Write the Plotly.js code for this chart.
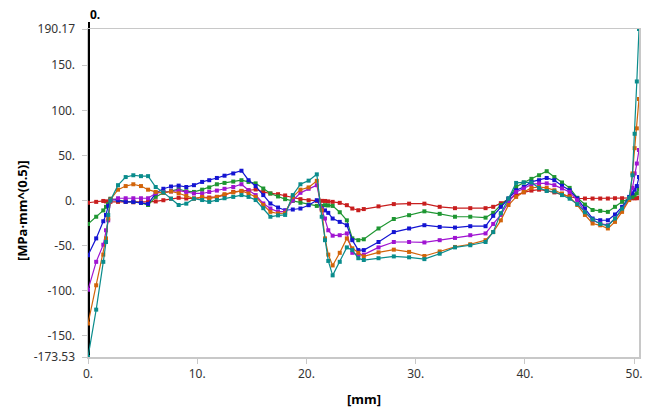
<!DOCTYPE html>
<html>
<head>
<meta charset="utf-8">
<script src="https://cdn.plot.ly/plotly-3.0.1.min.js"></script>
<style>html,body{margin:0;padding:0;background:#fff;}#chart{width:650px;height:412px;}</style>
</head>
<body>
<div id="chart"></div>
<script>
const xMm = [0,0.75,1.4,1.65,1.85,2.05,2.75,3.45,4.15,4.85,5.5,6.2,6.9,7.6,8.3,9.0,9.7,10.45,11.1,11.8,12.5,13.3,14.05,14.7,15.35,16.05,16.7,17.4,18.05,18.75,19.45,20.2,20.95,21.4,21.7,22.0,22.4,23.05,23.7,24.2,24.75,25.25,26.6,28.0,29.4,30.8,32.2,33.6,35.0,36.4,37.1,37.8,38.5,39.2,39.9,40.6,41.3,42.0,42.7,43.4,44.1,44.8,45.5,46.2,46.9,47.6,48.25,48.9,49.55,49.85,50.05,50.25,50.45];

const redVals = [-2.5,-1.5,-0.5,-1,-1.5,-1.5,-1.5,-1.5,-2,-2,-1.5,-1,0.3,2,3,2.2,2.2,3.3,3.3,4,6,9.6,10.3,11.3,12.2,9.6,7.8,7,5.6,3.3,1.5,0.3,-0.4,-0.4,-0.5,-1,-1.5,-2.6,-5.2,-8.9,-10.8,-9.5,-6.5,-4,-3.5,-3.5,-7,-8.5,-8.5,-8.5,-7,-3,1,6,9,11,12,11,9,7,5,2.2,2.2,2.2,2.2,2.2,2.5,2.5,2.5,2.5,2.5,2.5,3];
const greenVals = [-26,-18,-11,-7,-4,2,0.3,-1,-1.5,-2.6,-5,4,8.5,10.5,12.5,10.3,9.5,12,14.5,18,19.5,21,22.5,20.6,19,13.3,7.8,4.5,1.5,-0.5,-2.5,-4.5,-6,-6,-5.2,-5.5,-6,-13,-22,-42,-44,-43,-31,-20.5,-16.3,-12,-14.8,-18,-18,-19,-13.7,-5,2.2,15,20,24,28,32.5,26,20,14,3,-4.5,-10.5,-11.5,-12.6,-7,-1.5,2.2,4,6,8,13];
const blueVals = [-60.7,-42,-23,-16,-6,1,0.3,-1.5,-1.5,-2.6,-3.7,8,13,15.5,16.5,15,17,20.6,22.5,25,27.5,30,33,22.5,16,6,-3.3,-7.8,-10.8,-10,-8.9,-5.2,0.3,-8.9,-11,-13.7,-20,-23.7,-27.4,-44,-55,-55,-46,-35,-31,-27.4,-29.3,-30,-28.5,-28.5,-17,-7,2.2,11.4,15,20.6,22.5,25,22.5,16.3,11.4,2.2,-8.9,-20,-21.9,-21.9,-15.5,-7,4,8,12,16,26];
const purpleVals = [-99,-68,-49,-33,-22,0,2.5,2.5,2.5,2.5,2.5,8,9.5,10,11,9.5,7.8,7.8,9.5,11,13,15,18,11.4,6,-3.3,-8.9,-12.6,-12,0,8.5,13,17,-9,-20,-33,-39,-38.5,-36.5,-58,-60.5,-60,-52,-46,-46,-46.5,-44,-41.5,-38.5,-36.5,-26,-16,-2,9.5,13.3,17.8,19,19,17,13.3,9.5,0.3,-12.6,-22,-25.5,-27.4,-20,-10.8,2,14,30,41,56];
const orangeVals = [-136.5,-94,-60,-42,-20,1,12,16,18,16,12,9.5,8.5,10,8,5,2.2,4,2.2,4,7,9,10.7,7.8,4,-5,-12.6,-14.4,-14,4,12,14.5,21.8,-10.8,-42,-60,-72,-58,-42,-53,-58,-62,-57.5,-54.5,-57,-61.5,-56.5,-51.5,-48.5,-44,-35,-22,-5,4,9.5,14,15,14,11.4,7.8,4,-5,-16,-25.5,-27.5,-31,-23.7,-12.6,0.5,30,58,80,112.5];
const tealVals = [-173.53,-121,-68,-46,-16,0,17,26,28,27,27,15,9,2,-5,-3.5,2,0.5,-1.5,0.5,2.5,4,6,4,0.5,-8.5,-18,-16.5,-16,6,18,22,29,-18,-44,-67,-83,-68,-52,-55,-64,-66,-64,-62,-63,-65,-59,-52,-49.6,-46,-35,-14,2,19.5,20,20,14,10.5,10,6,2,-4,-13,-21,-26,-28,-20,-9,3,28,74,132,190.17];

const seriesNames = ['Contour 1','Contour 2','Contour 3','Contour 4','Contour 5','Contour 6'];
const seriesColors = ['#c81e1e','#1e9632','#1414d2','#a014d2','#d2640a','#0a8c8c'];
const seriesVals = [redVals, greenVals, blueVals, purpleVals, orangeVals, tealVals];

const yTickVals = [-173.53,-150,-100,-50,0,50,100,150,190.17];
const yTickText = ['-173.53','-150.','-100.','-50.','0.','50.','100.','150.','190.17'];
const xTickVals = [0,10,20,30,40,50];
const xTickText = ['0.','10.','20.','30.','40.','50.'];

const traces = seriesVals.map((v,i)=>({
  x: xMm, y: v, type:'scatter', mode:'lines+markers', name: seriesNames[i],
  line:{color: seriesColors[i], width:1.2},
  marker:{color: seriesColors[i], size:4, symbol:'square'},
  showlegend:false
}));

const font = 'Noto Sans, Open Sans, DejaVu Sans, sans-serif';
const layout = {
  width:650, height:412,
  margin:{l:88, r:11, t:29, b:55, pad:0},
  paper_bgcolor:'#fff', plot_bgcolor:'#fff',
  font:{family:font, size:12, color:'#333'},
  xaxis:{range:[0,50.45], tickvals:xTickVals, ticktext:xTickText, showgrid:false, zeroline:false,
    showline:true, mirror:true, linecolor:'#c8c8c8', linewidth:1.5,
    ticks:'outside', ticklen:5, tickcolor:'#c8c8c8', tickfont:{size:12, color:'#333', family:font}},
  yaxis:{range:[-173.53,190.17], tickvals:yTickVals, ticktext:yTickText, showgrid:false, zeroline:false,
    showline:true, mirror:true, linecolor:'#c8c8c8', linewidth:1.5,
    ticks:'outside', ticklen:5, tickcolor:'#c8c8c8', ticklabelstandoff:4, tickfont:{size:12, color:'#333', family:font}},
  shapes:[{type:'line', xref:'x', yref:'paper', x0:0, x1:0, y0:0, y1:1.0213, layer:'below', line:{color:'#000', width:4}}],
  annotations:[
    {text:'<b>0.</b>', xref:'x', yref:'paper', x:0, y:1.0457, xanchor:'left', yanchor:'middle', showarrow:false, font:{size:12, color:'#000', family:font}},
    {text:'<b>[MPa·mm^(0.5)]</b>', xref:'paper', yref:'paper', x:-0.1198, y:0.448, xanchor:'center', yanchor:'middle', textangle:-90, showarrow:false, font:{size:13, color:'#000', family:font}},
    {text:'<b>[mm]</b>', xref:'paper', yref:'paper', x:0.5, y:-0.128, xanchor:'center', yanchor:'middle', showarrow:false, font:{size:13, color:'#000', family:font}}
  ]
};
Plotly.newPlot('chart', traces, layout, {displayModeBar:false, staticPlot:true});
</script>
</body>
</html>
